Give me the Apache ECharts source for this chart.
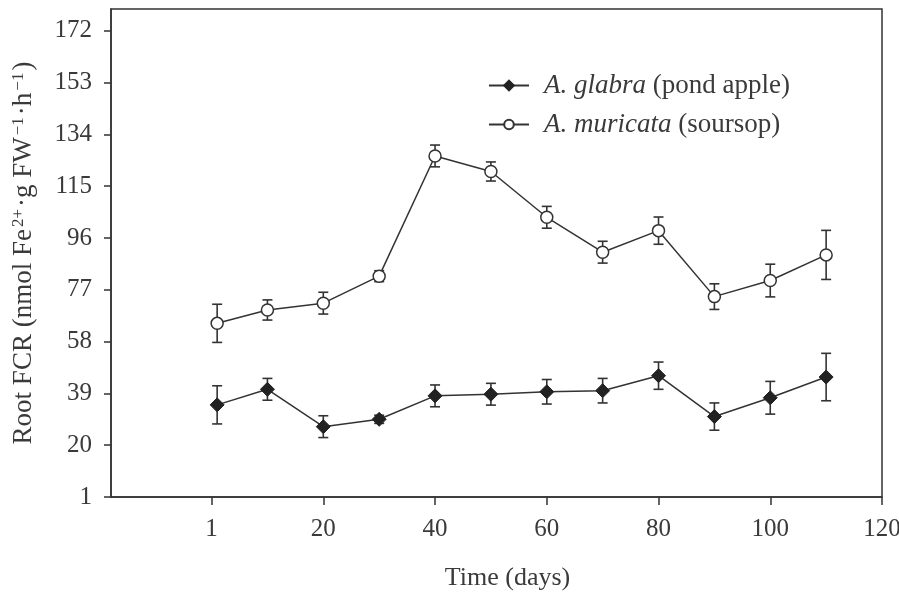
<!DOCTYPE html>
<html>
<head>
<meta charset="utf-8">
<script src="https://cdn.jsdelivr.net/npm/echarts@6/dist/echarts.min.js"></script>
<style>
  html, body { margin: 0; padding: 0; background: #fff; }
  #chart { width: 899px; height: 597px; }
</style>
</head>
<body>
<div id="chart"></div>
<script>
// values
const days = [1, 10, 20, 30, 40, 50, 60, 70, 80, 90, 100, 110];
const glabra = [34.8, 40.5, 26.8, 29.5, 38.1, 38.7, 39.6, 40.0, 45.5, 30.5, 37.4, 45.0];
const glabraErr = [7, 4, 4, 1.5, 4, 4, 4.5, 4.5, 5, 5, 6, 8.7];
const muricata = [64.7, 69.6, 72.1, 82.0, 126.1, 120.4, 103.6, 90.8, 98.7, 74.5, 80.4, 89.8];
const muricataErr = [7, 3.7, 4, 2, 4, 3.5, 4, 4, 5, 4.7, 6, 9];

const xTicks = [0, 20, 40, 60, 80, 100, 120];
const xTickLabels = ['1', '20', '40', '60', '80', '100', '120'];
const yTicks = [1, 20, 39, 58, 77, 96, 115, 134, 153, 172];

const ink = '#333';
const textColor = '#3a3a3a';
const font = 'Liberation Serif';

function pairs(ys) {
  return days.map((d, i) => [d, ys[i]]);
}
function bars(ys, errs) {
  return days.map((d, i) => [d, ys[i] - errs[i], ys[i] + errs[i]]);
}

function renderErrorBar(params, api) {
  const x = api.value(0);
  const lo = api.coord([x, api.value(1)]);
  const hi = api.coord([x, api.value(2)]);
  const w = 5;
  const style = { stroke: ink, lineWidth: 1.6 };
  return {
    type: 'group',
    children: [
      { type: 'line', shape: { x1: lo[0], y1: lo[1], x2: hi[0], y2: hi[1] }, style },
      { type: 'line', shape: { x1: lo[0] - w, y1: lo[1], x2: lo[0] + w, y2: lo[1] }, style },
      { type: 'line', shape: { x1: hi[0] - w, y1: hi[1], x2: hi[0] + w, y2: hi[1] }, style }
    ]
  };
}

const chart = echarts.init(document.getElementById('chart'));

const option = {
  animation: false,
  backgroundColor: '#fff',
  textStyle: { fontFamily: font, color: textColor },
  grid: {
    left: 111, right: 17, top: 9, bottom: 100,
    outerBoundsMode: 'none',
    show: true, borderColor: ink, borderWidth: 1.5
  },
  legend: {
    data: ['glabra', 'muricata'],
    orient: 'vertical',
    left: 483,
    top: 67,
    itemWidth: 40,
    itemHeight: 12,
    itemGap: 12,
    textStyle: {
      fontFamily: font, fontSize: 27, color: textColor,
      padding: [0, 0, 0, 10],
      rich: { i: { fontFamily: font, fontSize: 27, fontStyle: 'italic', color: textColor } }
    },
    formatter: function (name) {
      return name === 'glabra'
        ? '{i|A. glabra} (pond apple)'
        : '{i|A. muricata} (soursop)';
    }
  },
  xAxis: {
    type: 'value',
    min: -18,
    max: 120,
    name: 'Time (days)',
    nameLocation: 'middle',
    nameGap: 68,
    nameTextStyle: { fontFamily: font, fontSize: 26, color: textColor, padding: [0, 0, 0, 22] },
    splitLine: { show: false },
    axisLine: { onZero: false, lineStyle: { color: ink, width: 1.5 } },
    axisTick: { customValues: xTicks, length: 8, lineStyle: { color: ink, width: 1.5 } },
    axisLabel: {
      customValues: xTicks,
      margin: 20,
      fontFamily: font, fontSize: 25, color: textColor,
      formatter: v => xTickLabels[xTicks.indexOf(v)]
    }
  },
  yAxis: {
    type: 'value',
    min: 1,
    max: 180,
    name: 'Root FCR (nmol Fe{sup|2+}·g FW{sup|−1}·h{sup|−1})',
    nameLocation: 'middle',
    nameGap: 74,
    nameTextStyle: {
      fontFamily: font, fontSize: 27, color: textColor,
      rich: {
        sup: { fontFamily: font, fontSize: 17, color: textColor, verticalAlign: 'top', padding: [0, 2, 0, 2] }
      }
    },
    splitLine: { show: false },
    axisLine: { onZero: false, lineStyle: { color: ink, width: 1.5 } },
    axisTick: { customValues: yTicks, length: 7, lineStyle: { color: ink, width: 1.5 } },
    axisLabel: {
      customValues: yTicks,
      margin: 19,
      fontFamily: font, fontSize: 25, color: textColor
    }
  },
  series: [
    {
      type: 'custom',
      name: 'glabraErr',
      renderItem: renderErrorBar,
      encode: { x: 0, y: [1, 2] },
      data: bars(glabra, glabraErr),
      z: 1
    },
    {
      type: 'custom',
      name: 'muricataErr',
      renderItem: renderErrorBar,
      encode: { x: 0, y: [1, 2] },
      data: bars(muricata, muricataErr),
      z: 1
    },
    {
      type: 'line',
      name: 'glabra',
      data: pairs(glabra),
      symbol: 'diamond',
      symbolSize: 14,
      lineStyle: { color: ink, width: 1.5 },
      itemStyle: { color: '#222', borderColor: '#222', borderWidth: 1 },
      z: 3
    },
    {
      type: 'line',
      name: 'muricata',
      data: pairs(muricata),
      symbol: 'circle',
      symbolSize: 12,
      lineStyle: { color: ink, width: 1.5 },
      itemStyle: { color: '#fff', borderColor: ink, borderWidth: 1.5 },
      z: 3
    }
  ]
};

chart.setOption(option);
</script>
</body>
</html>
